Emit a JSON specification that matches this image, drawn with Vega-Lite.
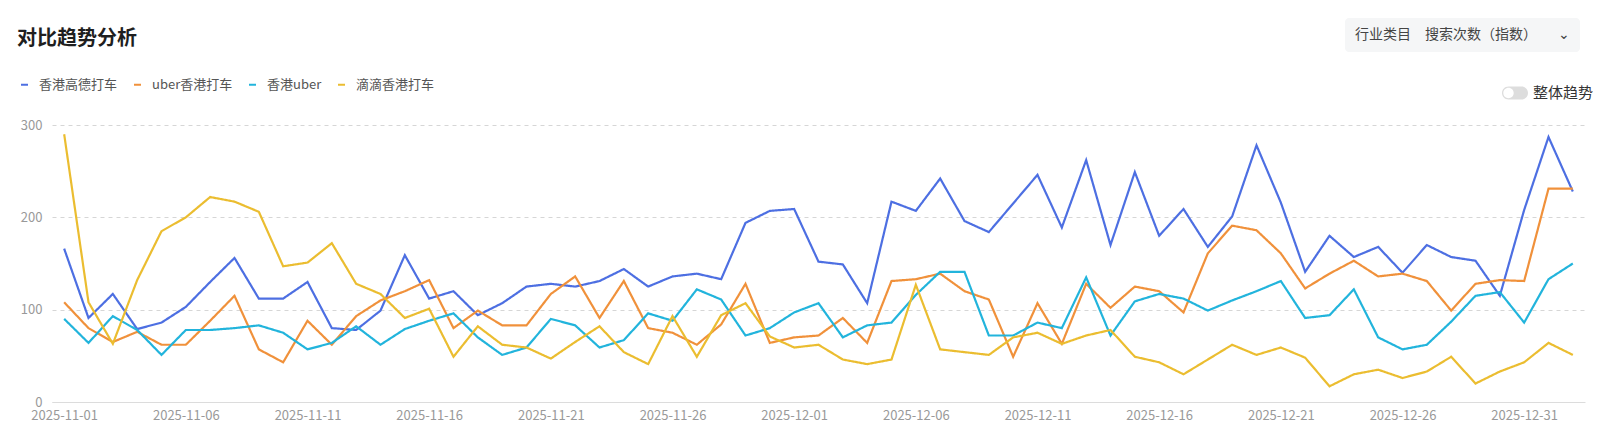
{
  "$schema": "https://vega.github.io/schema/vega-lite/v6.json",
  "width": 1533,
  "height": 277,
  "autosize": {"type": "none"},
  "padding": {"left": 52, "top": 125, "right": 15, "bottom": 34},
  "background": "#ffffff",
  "config": {
    "font": "Noto Sans CJK SC",
    "view": {"stroke": null}
  },
  "title": {
    "text": "对比趋势分析",
    "anchor": "start",
    "frame": "group",
    "dx": -35,
    "offset": -31,
    "fontSize": 20,
    "fontWeight": 600,
    "color": "#1f1f1f"
  },
  "data": {
    "values": [
      {"date": "2025-11-01", "series": "香港高德打车", "value": 166},
      {"date": "2025-11-01", "series": "uber香港打车", "value": 108},
      {"date": "2025-11-01", "series": "香港uber", "value": 90},
      {"date": "2025-11-01", "series": "滴滴香港打车", "value": 290},
      {"date": "2025-11-02", "series": "香港高德打车", "value": 91},
      {"date": "2025-11-02", "series": "uber香港打车", "value": 80},
      {"date": "2025-11-02", "series": "香港uber", "value": 64},
      {"date": "2025-11-02", "series": "滴滴香港打车", "value": 108},
      {"date": "2025-11-03", "series": "香港高德打车", "value": 117},
      {"date": "2025-11-03", "series": "uber香港打车", "value": 65},
      {"date": "2025-11-03", "series": "香港uber", "value": 93},
      {"date": "2025-11-03", "series": "滴滴香港打车", "value": 63},
      {"date": "2025-11-04", "series": "香港高德打车", "value": 79},
      {"date": "2025-11-04", "series": "uber香港打车", "value": 76},
      {"date": "2025-11-04", "series": "香港uber", "value": 78},
      {"date": "2025-11-04", "series": "滴滴香港打车", "value": 132},
      {"date": "2025-11-05", "series": "香港高德打车", "value": 86},
      {"date": "2025-11-05", "series": "uber香港打车", "value": 62},
      {"date": "2025-11-05", "series": "香港uber", "value": 51},
      {"date": "2025-11-05", "series": "滴滴香港打车", "value": 185},
      {"date": "2025-11-06", "series": "香港高德打车", "value": 103},
      {"date": "2025-11-06", "series": "uber香港打车", "value": 62},
      {"date": "2025-11-06", "series": "香港uber", "value": 78},
      {"date": "2025-11-06", "series": "滴滴香港打车", "value": 200},
      {"date": "2025-11-07", "series": "香港高德打车", "value": 130},
      {"date": "2025-11-07", "series": "uber香港打车", "value": 88},
      {"date": "2025-11-07", "series": "香港uber", "value": 78},
      {"date": "2025-11-07", "series": "滴滴香港打车", "value": 222},
      {"date": "2025-11-08", "series": "香港高德打车", "value": 156},
      {"date": "2025-11-08", "series": "uber香港打车", "value": 115},
      {"date": "2025-11-08", "series": "香港uber", "value": 80},
      {"date": "2025-11-08", "series": "滴滴香港打车", "value": 217},
      {"date": "2025-11-09", "series": "香港高德打车", "value": 112},
      {"date": "2025-11-09", "series": "uber香港打车", "value": 57},
      {"date": "2025-11-09", "series": "香港uber", "value": 83},
      {"date": "2025-11-09", "series": "滴滴香港打车", "value": 206},
      {"date": "2025-11-10", "series": "香港高德打车", "value": 112},
      {"date": "2025-11-10", "series": "uber香港打车", "value": 43},
      {"date": "2025-11-10", "series": "香港uber", "value": 75},
      {"date": "2025-11-10", "series": "滴滴香港打车", "value": 147},
      {"date": "2025-11-11", "series": "香港高德打车", "value": 130},
      {"date": "2025-11-11", "series": "uber香港打车", "value": 88},
      {"date": "2025-11-11", "series": "香港uber", "value": 57},
      {"date": "2025-11-11", "series": "滴滴香港打车", "value": 151},
      {"date": "2025-11-12", "series": "香港高德打车", "value": 80},
      {"date": "2025-11-12", "series": "uber香港打车", "value": 62},
      {"date": "2025-11-12", "series": "香港uber", "value": 64},
      {"date": "2025-11-12", "series": "滴滴香港打车", "value": 172},
      {"date": "2025-11-13", "series": "香港高德打车", "value": 78},
      {"date": "2025-11-13", "series": "uber香港打车", "value": 93},
      {"date": "2025-11-13", "series": "香港uber", "value": 82},
      {"date": "2025-11-13", "series": "滴滴香港打车", "value": 128},
      {"date": "2025-11-14", "series": "香港高德打车", "value": 99},
      {"date": "2025-11-14", "series": "uber香港打车", "value": 110},
      {"date": "2025-11-14", "series": "香港uber", "value": 62},
      {"date": "2025-11-14", "series": "滴滴香港打车", "value": 117},
      {"date": "2025-11-15", "series": "香港高德打车", "value": 159},
      {"date": "2025-11-15", "series": "uber香港打车", "value": 120},
      {"date": "2025-11-15", "series": "香港uber", "value": 79},
      {"date": "2025-11-15", "series": "滴滴香港打车", "value": 91},
      {"date": "2025-11-16", "series": "香港高德打车", "value": 112},
      {"date": "2025-11-16", "series": "uber香港打车", "value": 132},
      {"date": "2025-11-16", "series": "香港uber", "value": 88},
      {"date": "2025-11-16", "series": "滴滴香港打车", "value": 101},
      {"date": "2025-11-17", "series": "香港高德打车", "value": 120},
      {"date": "2025-11-17", "series": "uber香港打车", "value": 80},
      {"date": "2025-11-17", "series": "香港uber", "value": 96},
      {"date": "2025-11-17", "series": "滴滴香港打车", "value": 49},
      {"date": "2025-11-18", "series": "香港高德打车", "value": 94},
      {"date": "2025-11-18", "series": "uber香港打车", "value": 99},
      {"date": "2025-11-18", "series": "香港uber", "value": 70},
      {"date": "2025-11-18", "series": "滴滴香港打车", "value": 82},
      {"date": "2025-11-19", "series": "香港高德打车", "value": 107},
      {"date": "2025-11-19", "series": "uber香港打车", "value": 83},
      {"date": "2025-11-19", "series": "香港uber", "value": 51},
      {"date": "2025-11-19", "series": "滴滴香港打车", "value": 62},
      {"date": "2025-11-20", "series": "香港高德打车", "value": 125},
      {"date": "2025-11-20", "series": "uber香港打车", "value": 83},
      {"date": "2025-11-20", "series": "香港uber", "value": 59},
      {"date": "2025-11-20", "series": "滴滴香港打车", "value": 59},
      {"date": "2025-11-21", "series": "香港高德打车", "value": 128},
      {"date": "2025-11-21", "series": "uber香港打车", "value": 117},
      {"date": "2025-11-21", "series": "香港uber", "value": 90},
      {"date": "2025-11-21", "series": "滴滴香港打车", "value": 47},
      {"date": "2025-11-22", "series": "香港高德打车", "value": 125},
      {"date": "2025-11-22", "series": "uber香港打车", "value": 136},
      {"date": "2025-11-22", "series": "香港uber", "value": 83},
      {"date": "2025-11-22", "series": "滴滴香港打车", "value": 65},
      {"date": "2025-11-23", "series": "香港高德打车", "value": 131},
      {"date": "2025-11-23", "series": "uber香港打车", "value": 91},
      {"date": "2025-11-23", "series": "香港uber", "value": 59},
      {"date": "2025-11-23", "series": "滴滴香港打车", "value": 82},
      {"date": "2025-11-24", "series": "香港高德打车", "value": 144},
      {"date": "2025-11-24", "series": "uber香港打车", "value": 131},
      {"date": "2025-11-24", "series": "香港uber", "value": 67},
      {"date": "2025-11-24", "series": "滴滴香港打车", "value": 54},
      {"date": "2025-11-25", "series": "香港高德打车", "value": 125},
      {"date": "2025-11-25", "series": "uber香港打车", "value": 80},
      {"date": "2025-11-25", "series": "香港uber", "value": 96},
      {"date": "2025-11-25", "series": "滴滴香港打车", "value": 41},
      {"date": "2025-11-26", "series": "香港高德打车", "value": 136},
      {"date": "2025-11-26", "series": "uber香港打车", "value": 75},
      {"date": "2025-11-26", "series": "香港uber", "value": 88},
      {"date": "2025-11-26", "series": "滴滴香港打车", "value": 93},
      {"date": "2025-11-27", "series": "香港高德打车", "value": 139},
      {"date": "2025-11-27", "series": "uber香港打车", "value": 62},
      {"date": "2025-11-27", "series": "香港uber", "value": 122},
      {"date": "2025-11-27", "series": "滴滴香港打车", "value": 49},
      {"date": "2025-11-28", "series": "香港高德打车", "value": 133},
      {"date": "2025-11-28", "series": "uber香港打车", "value": 84},
      {"date": "2025-11-28", "series": "香港uber", "value": 111},
      {"date": "2025-11-28", "series": "滴滴香港打车", "value": 94},
      {"date": "2025-11-29", "series": "香港高德打车", "value": 194},
      {"date": "2025-11-29", "series": "uber香港打车", "value": 128},
      {"date": "2025-11-29", "series": "香港uber", "value": 72},
      {"date": "2025-11-29", "series": "滴滴香港打车", "value": 107},
      {"date": "2025-11-30", "series": "香港高德打车", "value": 207},
      {"date": "2025-11-30", "series": "uber香港打车", "value": 64},
      {"date": "2025-11-30", "series": "香港uber", "value": 80},
      {"date": "2025-11-30", "series": "滴滴香港打车", "value": 71},
      {"date": "2025-12-01", "series": "香港高德打车", "value": 209},
      {"date": "2025-12-01", "series": "uber香港打车", "value": 70},
      {"date": "2025-12-01", "series": "香港uber", "value": 97},
      {"date": "2025-12-01", "series": "滴滴香港打车", "value": 59},
      {"date": "2025-12-02", "series": "香港高德打车", "value": 152},
      {"date": "2025-12-02", "series": "uber香港打车", "value": 72},
      {"date": "2025-12-02", "series": "香港uber", "value": 107},
      {"date": "2025-12-02", "series": "滴滴香港打车", "value": 62},
      {"date": "2025-12-03", "series": "香港高德打车", "value": 149},
      {"date": "2025-12-03", "series": "uber香港打车", "value": 91},
      {"date": "2025-12-03", "series": "香港uber", "value": 70},
      {"date": "2025-12-03", "series": "滴滴香港打车", "value": 46},
      {"date": "2025-12-04", "series": "香港高德打车", "value": 107},
      {"date": "2025-12-04", "series": "uber香港打车", "value": 64},
      {"date": "2025-12-04", "series": "香港uber", "value": 83},
      {"date": "2025-12-04", "series": "滴滴香港打车", "value": 41},
      {"date": "2025-12-05", "series": "香港高德打车", "value": 217},
      {"date": "2025-12-05", "series": "uber香港打车", "value": 131},
      {"date": "2025-12-05", "series": "香港uber", "value": 86},
      {"date": "2025-12-05", "series": "滴滴香港打车", "value": 46},
      {"date": "2025-12-06", "series": "香港高德打车", "value": 207},
      {"date": "2025-12-06", "series": "uber香港打车", "value": 133},
      {"date": "2025-12-06", "series": "香港uber", "value": 116},
      {"date": "2025-12-06", "series": "滴滴香港打车", "value": 127},
      {"date": "2025-12-07", "series": "香港高德打车", "value": 242},
      {"date": "2025-12-07", "series": "uber香港打车", "value": 139},
      {"date": "2025-12-07", "series": "香港uber", "value": 141},
      {"date": "2025-12-07", "series": "滴滴香港打车", "value": 57},
      {"date": "2025-12-08", "series": "香港高德打车", "value": 196},
      {"date": "2025-12-08", "series": "uber香港打车", "value": 120},
      {"date": "2025-12-08", "series": "香港uber", "value": 141},
      {"date": "2025-12-08", "series": "滴滴香港打车", "value": 54},
      {"date": "2025-12-09", "series": "香港高德打车", "value": 184},
      {"date": "2025-12-09", "series": "uber香港打车", "value": 111},
      {"date": "2025-12-09", "series": "香港uber", "value": 72},
      {"date": "2025-12-09", "series": "滴滴香港打车", "value": 51},
      {"date": "2025-12-10", "series": "香港高德打车", "value": 215},
      {"date": "2025-12-10", "series": "uber香港打车", "value": 49},
      {"date": "2025-12-10", "series": "香港uber", "value": 72},
      {"date": "2025-12-10", "series": "滴滴香港打车", "value": 70},
      {"date": "2025-12-11", "series": "香港高德打车", "value": 246},
      {"date": "2025-12-11", "series": "uber香港打车", "value": 107},
      {"date": "2025-12-11", "series": "香港uber", "value": 86},
      {"date": "2025-12-11", "series": "滴滴香港打车", "value": 75},
      {"date": "2025-12-12", "series": "香港高德打车", "value": 189},
      {"date": "2025-12-12", "series": "uber香港打车", "value": 63},
      {"date": "2025-12-12", "series": "香港uber", "value": 80},
      {"date": "2025-12-12", "series": "滴滴香港打车", "value": 63},
      {"date": "2025-12-13", "series": "香港高德打车", "value": 262},
      {"date": "2025-12-13", "series": "uber香港打车", "value": 128},
      {"date": "2025-12-13", "series": "香港uber", "value": 135},
      {"date": "2025-12-13", "series": "滴滴香港打车", "value": 72},
      {"date": "2025-12-14", "series": "香港高德打车", "value": 170},
      {"date": "2025-12-14", "series": "uber香港打车", "value": 102},
      {"date": "2025-12-14", "series": "香港uber", "value": 72},
      {"date": "2025-12-14", "series": "滴滴香港打车", "value": 78},
      {"date": "2025-12-15", "series": "香港高德打车", "value": 249},
      {"date": "2025-12-15", "series": "uber香港打车", "value": 125},
      {"date": "2025-12-15", "series": "香港uber", "value": 109},
      {"date": "2025-12-15", "series": "滴滴香港打车", "value": 49},
      {"date": "2025-12-16", "series": "香港高德打车", "value": 180},
      {"date": "2025-12-16", "series": "uber香港打车", "value": 120},
      {"date": "2025-12-16", "series": "香港uber", "value": 117},
      {"date": "2025-12-16", "series": "滴滴香港打车", "value": 43},
      {"date": "2025-12-17", "series": "香港高德打车", "value": 209},
      {"date": "2025-12-17", "series": "uber香港打车", "value": 97},
      {"date": "2025-12-17", "series": "香港uber", "value": 112},
      {"date": "2025-12-17", "series": "滴滴香港打车", "value": 30},
      {"date": "2025-12-18", "series": "香港高德打车", "value": 168},
      {"date": "2025-12-18", "series": "uber香港打车", "value": 161},
      {"date": "2025-12-18", "series": "香港uber", "value": 99},
      {"date": "2025-12-18", "series": "滴滴香港打车", "value": 46},
      {"date": "2025-12-19", "series": "香港高德打车", "value": 201},
      {"date": "2025-12-19", "series": "uber香港打车", "value": 191},
      {"date": "2025-12-19", "series": "香港uber", "value": 110},
      {"date": "2025-12-19", "series": "滴滴香港打车", "value": 62},
      {"date": "2025-12-20", "series": "香港高德打车", "value": 278},
      {"date": "2025-12-20", "series": "uber香港打车", "value": 186},
      {"date": "2025-12-20", "series": "香港uber", "value": 120},
      {"date": "2025-12-20", "series": "滴滴香港打车", "value": 51},
      {"date": "2025-12-21", "series": "香港高德打车", "value": 216},
      {"date": "2025-12-21", "series": "uber香港打车", "value": 161},
      {"date": "2025-12-21", "series": "香港uber", "value": 131},
      {"date": "2025-12-21", "series": "滴滴香港打车", "value": 59},
      {"date": "2025-12-22", "series": "香港高德打车", "value": 141},
      {"date": "2025-12-22", "series": "uber香港打车", "value": 123},
      {"date": "2025-12-22", "series": "香港uber", "value": 91},
      {"date": "2025-12-22", "series": "滴滴香港打车", "value": 48},
      {"date": "2025-12-23", "series": "香港高德打车", "value": 180},
      {"date": "2025-12-23", "series": "uber香港打车", "value": 139},
      {"date": "2025-12-23", "series": "香港uber", "value": 94},
      {"date": "2025-12-23", "series": "滴滴香港打车", "value": 17},
      {"date": "2025-12-24", "series": "香港高德打车", "value": 157},
      {"date": "2025-12-24", "series": "uber香港打车", "value": 153},
      {"date": "2025-12-24", "series": "香港uber", "value": 122},
      {"date": "2025-12-24", "series": "滴滴香港打车", "value": 30},
      {"date": "2025-12-25", "series": "香港高德打车", "value": 168},
      {"date": "2025-12-25", "series": "uber香港打车", "value": 136},
      {"date": "2025-12-25", "series": "香港uber", "value": 70},
      {"date": "2025-12-25", "series": "滴滴香港打车", "value": 35},
      {"date": "2025-12-26", "series": "香港高德打车", "value": 140},
      {"date": "2025-12-26", "series": "uber香港打车", "value": 139},
      {"date": "2025-12-26", "series": "香港uber", "value": 57},
      {"date": "2025-12-26", "series": "滴滴香港打车", "value": 26},
      {"date": "2025-12-27", "series": "香港高德打车", "value": 170},
      {"date": "2025-12-27", "series": "uber香港打车", "value": 131},
      {"date": "2025-12-27", "series": "香港uber", "value": 62},
      {"date": "2025-12-27", "series": "滴滴香港打车", "value": 33},
      {"date": "2025-12-28", "series": "香港高德打车", "value": 157},
      {"date": "2025-12-28", "series": "uber香港打车", "value": 99},
      {"date": "2025-12-28", "series": "香港uber", "value": 87},
      {"date": "2025-12-28", "series": "滴滴香港打车", "value": 49},
      {"date": "2025-12-29", "series": "香港高德打车", "value": 153},
      {"date": "2025-12-29", "series": "uber香港打车", "value": 128},
      {"date": "2025-12-29", "series": "香港uber", "value": 115},
      {"date": "2025-12-29", "series": "滴滴香港打车", "value": 20},
      {"date": "2025-12-30", "series": "香港高德打车", "value": 115},
      {"date": "2025-12-30", "series": "uber香港打车", "value": 132},
      {"date": "2025-12-30", "series": "香港uber", "value": 119},
      {"date": "2025-12-30", "series": "滴滴香港打车", "value": 33},
      {"date": "2025-12-31", "series": "香港高德打车", "value": 208},
      {"date": "2025-12-31", "series": "uber香港打车", "value": 131},
      {"date": "2025-12-31", "series": "香港uber", "value": 86},
      {"date": "2025-12-31", "series": "滴滴香港打车", "value": 43},
      {"date": "2026-01-01", "series": "香港高德打车", "value": 287},
      {"date": "2026-01-01", "series": "uber香港打车", "value": 231},
      {"date": "2026-01-01", "series": "香港uber", "value": 133},
      {"date": "2026-01-01", "series": "滴滴香港打车", "value": 64},
      {"date": "2026-01-02", "series": "香港高德打车", "value": 228},
      {"date": "2026-01-02", "series": "uber香港打车", "value": 231},
      {"date": "2026-01-02", "series": "香港uber", "value": 150},
      {"date": "2026-01-02", "series": "滴滴香港打车", "value": 51}
    ]
  },
  "mark": {"type": "line", "strokeWidth": 2.2},
  "encoding": {
    "x": {
      "field": "date",
      "type": "temporal",
      "scale": {
        "type": "utc",
        "domain": [
          {"year": 2025, "month": 10, "date": 31, "hours": 12, "utc": true},
          {"year": 2026, "month": 1, "date": 2, "hours": 12, "utc": true}
        ]
      },
      "axis": {
        "title": null,
        "format": "%Y-%m-%d",
        "values": [
          {"year": 2025, "month": 11, "date": 1, "utc": true},
          {"year": 2025, "month": 11, "date": 6, "utc": true},
          {"year": 2025, "month": 11, "date": 11, "utc": true},
          {"year": 2025, "month": 11, "date": 16, "utc": true},
          {"year": 2025, "month": 11, "date": 21, "utc": true},
          {"year": 2025, "month": 11, "date": 26, "utc": true},
          {"year": 2025, "month": 12, "date": 1, "utc": true},
          {"year": 2025, "month": 12, "date": 6, "utc": true},
          {"year": 2025, "month": 12, "date": 11, "utc": true},
          {"year": 2025, "month": 12, "date": 16, "utc": true},
          {"year": 2025, "month": 12, "date": 21, "utc": true},
          {"year": 2025, "month": 12, "date": 26, "utc": true},
          {"year": 2025, "month": 12, "date": 31, "utc": true}
        ],
        "grid": false,
        "ticks": false,
        "domainColor": "#dcdcdc",
        "domainWidth": 1,
        "labelColor": "#999999",
        "labelFontSize": 13,
        "labelPadding": 7,
        "labelFlush": false,
        "labelOverlap": false
      }
    },
    "y": {
      "field": "value",
      "type": "quantitative",
      "scale": {"domain": [0, 300], "nice": false},
      "axis": {
        "title": null,
        "values": [0, 100, 200, 300],
        "domain": false,
        "ticks": false,
        "grid": true,
        "gridColor": "#d6d6d6",
        "gridDash": [4, 4],
        "labelColor": "#999999",
        "labelFontSize": 13,
        "labelPadding": 10
      }
    },
    "color": {
      "field": "series",
      "type": "nominal",
      "scale": {
        "domain": ["香港高德打车", "uber香港打车", "香港uber", "滴滴香港打车"],
        "range": ["#4d6fe2", "#f0913b", "#22b4dc", "#ebbd30"]
      },
      "legend": {
        "title": null,
        "orient": "none",
        "legendX": -34,
        "legendY": -47,
        "direction": "horizontal",
        "columns": 4,
        "padding": 0,
        "symbolType": "stroke",
        "symbolSize": 49,
        "symbolStrokeWidth": 2,
        "labelFontSize": 13,
        "labelColor": "#555555",
        "labelOffset": 8,
        "columnPadding": 12
      }
    },
    "strokeDash": {
      "datum": "搜索次数（指数）",
      "type": "nominal",
      "scale": {"range": [[1, 0]]},
      "legend": {
        "title": "行业类目",
        "titleOrient": "left",
        "titleFontSize": 14,
        "titleFontWeight": "normal",
        "titleColor": "#444444",
        "titlePadding": 0,
        "orient": "none",
        "legendX": 1293,
        "legendY": -107,
        "padding": 10,
        "fillColor": "#f5f6f7",
        "cornerRadius": 4,
        "symbolSize": 0,
        "symbolOpacity": 0,
        "labelOffset": 0,
        "labelFontSize": 14,
        "labelColor": "#444444",
        "labelExpr": "datum.label + '\u3000\u3000\u2304\u2002'"
      }
    },
    "opacity": {
      "datum": "整体趋势",
      "type": "nominal",
      "scale": {"range": [1]},
      "legend": {
        "title": null,
        "orient": "none",
        "legendX": 1450,
        "legendY": -45,
        "padding": 0,
        "symbolType": "M-0.5,-0.5L0.5,-0.5A0.5,0.5,0,0,1,0.5,0.5L-0.5,0.5A0.5,0.5,0,0,1,-0.5,-0.5ZM-0.1,0A0.4,0.4,0,1,0,-0.9,0A0.4,0.4,0,1,0,-0.1,0Z",
        "symbolSize": 676,
        "symbolFillColor": "#dddddd",
        "symbolStrokeWidth": 0,
        "labelOffset": 5,
        "labelFontSize": 15,
        "labelColor": "#333333",
        "encode": {
          "symbols": {
            "update": {
              "fill": {"value": "#dddddd"},
              "stroke": {"value": "#dddddd"},
              "strokeWidth": {"value": 0},
              "opacity": {"value": 1}
            }
          }
        }
      }
    }
  }
}
